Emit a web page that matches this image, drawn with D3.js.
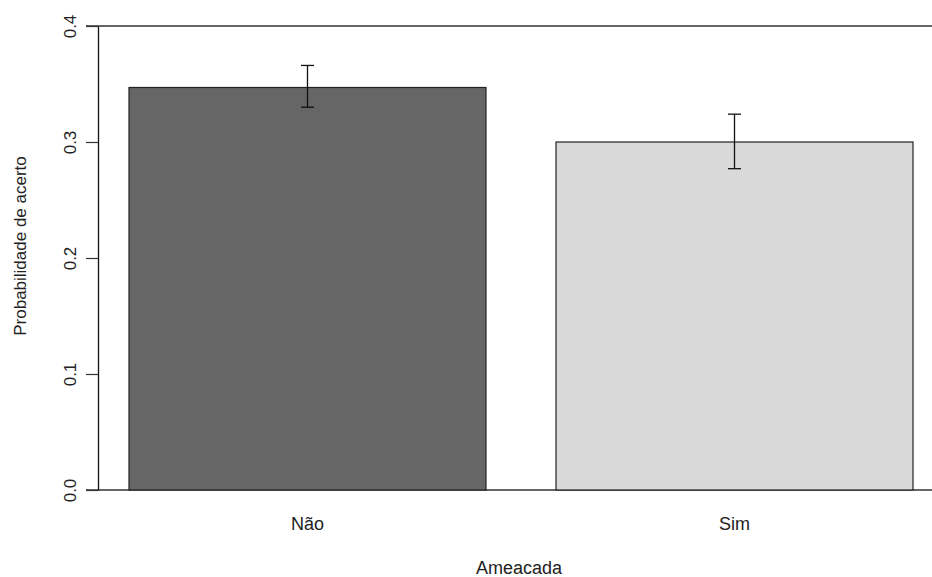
<!DOCTYPE html>
<html>
<head>
<meta charset="utf-8">
<script src="https://cdn.jsdelivr.net/npm/d3@7"></script>
<style>
  body { margin: 0; background: #fff; }
  text { font-family: "Liberation Sans", Arial, sans-serif; fill: #222; }
</style>
</head>
<body>
<div class="chart"></div>
<script>
// data
const categories = ['Não', 'Sim'];
const values = [0.347, 0.300];
const lower = [0.330, 0.277];
const upper = [0.366, 0.324];
const fills = ['#666666', '#d9d9d9'];
const yTicks = [0, 0.1, 0.2, 0.3, 0.4];

const width = 932;
const height = 577;

const svg = d3.select('.chart')
    .append('svg')
    .attr('width', width)
    .attr('height', height);

const y = d3.scaleLinear().domain([0, 0.4]).range([490, 26]);
const x = d3.scaleBand()
    .domain(categories)
    .range([129, 913])
    .paddingInner(0.164)
    .paddingOuter(0);

const data = categories.map((c, i) => ({ cat: c, v: values[i], lo: lower[i], hi: upper[i], fill: fills[i] }));

// horizontal lines at 0 and 0.4
svg.selectAll('.hline')
    .data([0, 0.4])
    .enter()
    .append('line')
    .attr('class', 'hline')
    .attr('x1', 86)
    .attr('x2', width)
    .attr('y1', d => y(d))
    .attr('y2', d => y(d))
    .attr('stroke', '#333')
    .attr('stroke-width', 1.3);

// bars
svg.selectAll('rect')
    .data(data)
    .enter()
    .append('rect')
    .attr('x', d => x(d.cat))
    .attr('y', d => y(d.v))
    .attr('width', x.bandwidth())
    .attr('height', d => y(0) - y(d.v))
    .attr('fill', d => d.fill)
    .attr('stroke', '#222')
    .attr('stroke-width', 1.2);

// error bars
const eb = svg.selectAll('.err')
    .data(data)
    .enter()
    .append('g')
    .attr('class', 'err')
    .attr('stroke', '#111')
    .attr('stroke-width', 1.3);
eb.append('line')
    .attr('x1', d => x(d.cat) + x.bandwidth() / 2)
    .attr('x2', d => x(d.cat) + x.bandwidth() / 2)
    .attr('y1', d => y(d.lo))
    .attr('y2', d => y(d.hi));
eb.append('line')
    .attr('x1', d => x(d.cat) + x.bandwidth() / 2 - 6.5)
    .attr('x2', d => x(d.cat) + x.bandwidth() / 2 + 6.5)
    .attr('y1', d => y(d.hi))
    .attr('y2', d => y(d.hi));
eb.append('line')
    .attr('x1', d => x(d.cat) + x.bandwidth() / 2 - 6.5)
    .attr('x2', d => x(d.cat) + x.bandwidth() / 2 + 6.5)
    .attr('y1', d => y(d.lo))
    .attr('y2', d => y(d.lo));

// y axis
const yAxis = svg.append('g')
    .attr('transform', 'translate(98,0)')
    .call(d3.axisLeft(y).tickValues(yTicks).tickFormat(d3.format('.1f')).tickSize(12).tickSizeOuter(0));
yAxis.select('.domain').attr('stroke', '#111').attr('stroke-width', 1.3);
yAxis.selectAll('.tick line').attr('stroke', '#333').attr('stroke-width', 1.2);
// tick g is translated to (0, y), labels rotated around a point left of the axis
yAxis.selectAll('.tick text')
    .attr('font-size', 17)
    .attr('font-family', '"Liberation Sans", Arial, sans-serif')
    .attr('fill', '#222')
    .attr('text-anchor', 'middle')
    .attr('transform', 'translate(-28,0) rotate(-90)')
    .attr('x', 0)
    .attr('y', 0)
    .attr('dy', '0.35em');

// category labels
svg.selectAll('.cat')
    .data(data)
    .enter()
    .append('text')
    .attr('class', 'cat')
    .attr('x', d => x(d.cat) + x.bandwidth() / 2)
    .attr('y', 530)
    .attr('text-anchor', 'middle')
    .attr('font-size', 18)
    .text(d => d.cat);

// axis titles
svg.append('text')
    .attr('x', 519)
    .attr('y', 574)
    .attr('text-anchor', 'middle')
    .attr('font-size', 18)
    .text('Ameacada');

svg.append('text')
    .attr('transform', 'translate(26,246) rotate(-90)')
    .attr('text-anchor', 'middle')
    .attr('font-size', 17)
    .text('Probabilidade de acerto');
</script>
</body>
</html>
